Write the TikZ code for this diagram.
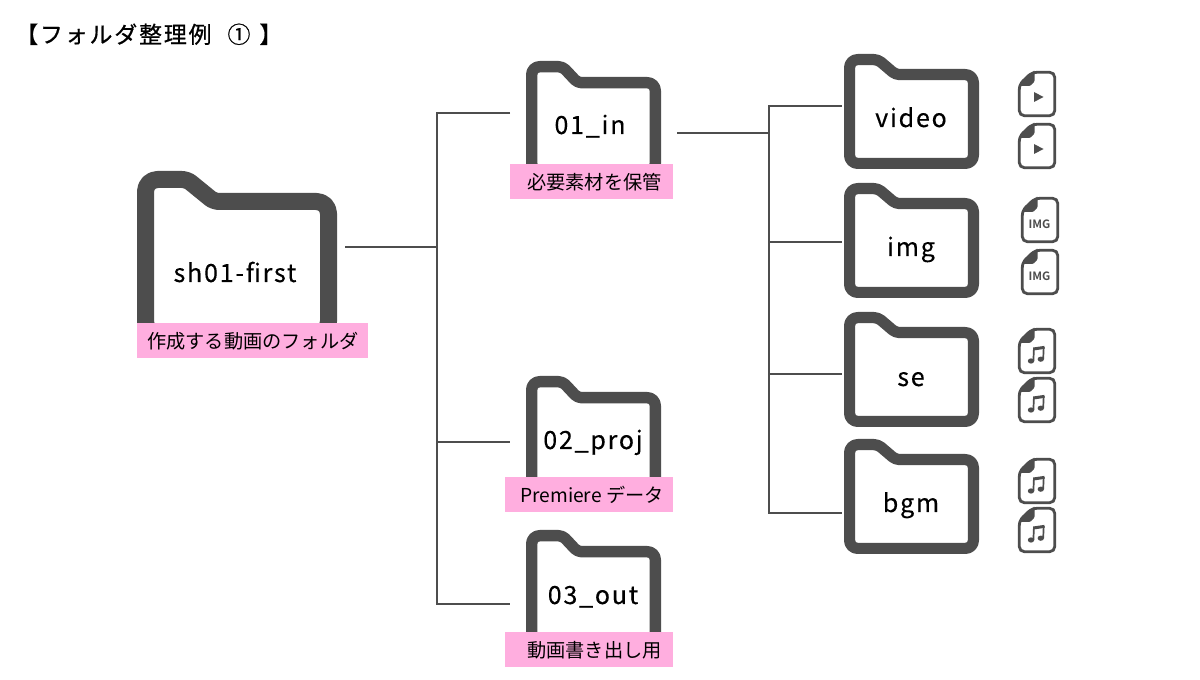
\documentclass[tikz,border=0pt]{standalone}
\usepackage{fontspec}
\setmainfont{Noto Sans CJK JP}
\newfontfamily\foldfont[LetterSpace=7,FakeBold=0.25]{Noto Sans CJK JP}
\newfontfamily\titlefont[LetterSpace=8,FakeBold=0.8]{Noto Sans CJK JP}
\newfontfamily\imgfont{Noto Sans CJK JP Bold}
\newdimen\px \px=0.75pt
\definecolor{dk}{HTML}{4D4D4D}
\definecolor{pk}{HTML}{FFAEDF}
\tikzset{
  folderline/.style={draw=dk,fill=white,line join=round},
  conn/.style={draw=dk,line width=1.5\px},
  iconline/.style={draw=dk,fill=white,line width=2.8\px,rounded corners=5\px},
  foldname/.style={anchor=base,inner sep=0pt,text=black,font=\fontsize{18.8}{20}\selectfont\foldfont},
  pinkbox/.style={fill=pk,anchor=north west,inner sep=0pt,text=black,font=\fontsize{14.4}{16}\selectfont},
}
\newcommand\bigfolder[1]{\begin{scope}[shift={(#1)}]
 \draw[folderline,line width=17\px] (8.5,162.5) [rounded corners=12\px] --(8.5,8.5) [rounded corners=5\px] --(50,8.5)--(77,30.5) [rounded corners=12\px] --(191.5,30.5)--(191.5,162.5)--(8.5,162.5)--cycle;
\end{scope}}
\newcommand\midfolder[1]{\begin{scope}[shift={(#1)}]
 \draw[folderline,line width=11.4\px] (5.7,110.5) [rounded corners=8\px] --(5.7,5.7) [rounded corners=4\px] --(36.6,5.7)--(51.6,21.7) [rounded corners=8\px] --(129.3,21.7)--(129.3,110.5)--(5.7,110.5)--cycle;
\end{scope}}
\newcommand\sidefolder[1]{\begin{scope}[shift={(#1)}]
 \draw[folderline,line width=11.2\px] (5.6,60) [rounded corners=8\px] --(5.6,5.6) [rounded corners=4\px] --(34,5.6)--(51.6,20.6) [rounded corners=8\px] --(129.4,20.6)--(129.4,109.4)--(5.6,109.4)--cycle;
\end{scope}}
\newcommand\pinktag[7]{\node[pinkbox,minimum height=#5\px] (#1) at (#2,#3) {\makebox[#4\px][l]{\hspace*{#6\px}#7}};}
\newcommand\icon[1]{%
 \draw[iconline] (1.3,13.5)--(14,1.3)--(36.7,1.3)--(36.7,44.7)--(1.3,44.7)--cycle;
 \fill[dk,rounded corners=1\px] (0,14.8)--(15.5,0)--(16.5,0)--(16.5,10.5)--(12.5,14.8)--cycle;}
\newcommand\playfile[2]{\begin{scope}[shift={(#2)}]\icon{#1}
 \fill[dk] (16,21)--(25.5,26)--(16,31)--cycle;\end{scope}}
\newcommand\imgfile[2]{\begin{scope}[shift={(#2)}]\icon{#1}
 \node[inner sep=0pt,text=dk,font=\fontsize{8.6}{9}\selectfont\imgfont] (#1) at (18.5,27) {IMG};\end{scope}}
\newcommand\musicfile[2]{\begin{scope}[shift={(#2)}]\icon{#1}
 \fill[dk] (13,33) ellipse[x radius=3.2\px,y radius=2.6\px];
 \fill[dk] (22.8,31.2) ellipse[x radius=3.2\px,y radius=2.6\px];
 \draw[dk,line width=1.7\px] (15.4,33)--(15.9,20.5);
 \draw[dk,line width=1.7\px] (25.2,31)--(25.7,19);
 \draw[dk,line width=3\px] (15.2,21)--(26.5,19.4);
 \end{scope}}
\begin{document}
\begin{tikzpicture}[x=0.75pt,y=-0.75pt]
\useasboundingbox (0,0) rectangle (1200,680);
\fill[white] (0,0) rectangle (1200,680);
% title
\node[anchor=base west,inner sep=0pt,font=\fontsize{17.2}{20}\selectfont\titlefont] (title) at (15,43) {【フォルダ整理例\hspace{9\px} ① \hspace{2\px}】};
% folder outlines
\bigfolder{137,171}
\midfolder{526,61}
\midfolder{526,376}
\midfolder{526,530}
\sidefolder{844,54}
\sidefolder{844,183}
\sidefolder{844,312}
\sidefolder{844,439}
% folder names
\node[foldname] (root) at (235,282) {sh01-first};
\node[foldname] (in) at (590,134) {01\_in};
\node[foldname] (proj) at (593,449) {02\_proj};
\node[foldname] (out) at (593,604) {03\_out};
\node[foldname] (video) at (911,127) {video};
\node[foldname] (imgf) at (911,256) {img};
\node[foldname] (sef) at (911,386) {se};
\node[foldname] (bgm) at (911,512) {bgm};
% pink labels
\pinktag{t0}{137}{323}{231}{35}{10}{作成する動画のフォルダ}
\pinktag{t1}{510}{164}{163}{35}{17}{必要素材を保管}
\pinktag{t2}{505}{477}{168}{35}{15}{Premiere データ}
\pinktag{t3}{505}{632}{168}{35}{22}{動画書き出し用}
% connector anchors
\coordinate (rootE) at (345,247);
\coordinate (j0) at (437,247);
\coordinate (j0t) at (437,113);
\coordinate (j0m) at (437,442);
\coordinate (j0b) at (437,604);
\coordinate (inW) at (510,113);
\coordinate (projW) at (510,442);
\coordinate (outW) at (510,604);
\coordinate (inE) at (677,133);
\coordinate (j1) at (769,133);
\coordinate (j1a) at (769,106);
\coordinate (j1b) at (769,242);
\coordinate (j1c) at (769,374);
\coordinate (j1d) at (769,513);
\coordinate (vW) at (842,106);
\coordinate (iW) at (842,242);
\coordinate (sW) at (842,374);
\coordinate (bW) at (842,513);
\draw[conn] (rootE)--(j0);
\draw[conn] (inW)--(j0t)--(j0b)--(outW);
\draw[conn] (j0m)--(projW);
\draw[conn] (inE)--(j1);
\draw[conn] (vW)--(j1a)--(j1d)--(bW);
\draw[conn] (j1b)--(iW);
\draw[conn] (j1c)--(sW);
% file icons
\playfile{p1}{1018,71}
\playfile{p2}{1018,123}
\imgfile{i1}{1021,197}
\imgfile{i2}{1021,249}
\musicfile{m1}{1018,328}
\musicfile{m2}{1018,377}
\musicfile{m3}{1018,458}
\musicfile{m4}{1018,507}
\end{tikzpicture}
\end{document}
